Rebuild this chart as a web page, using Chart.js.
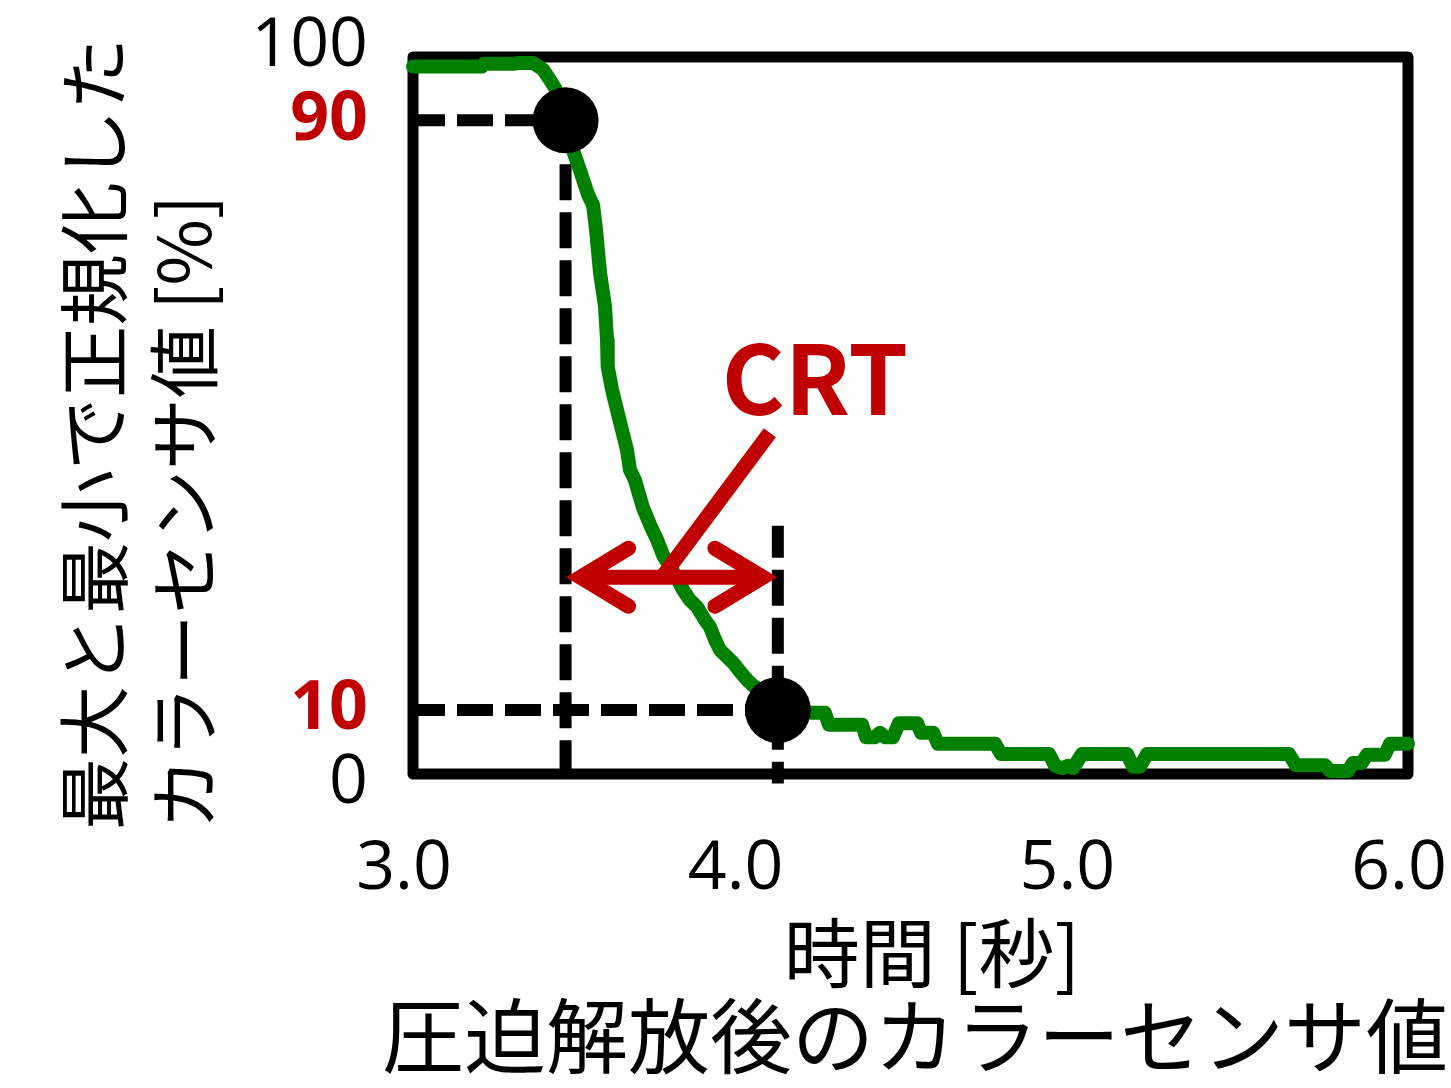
<!DOCTYPE html>
<html lang="ja">
<head>
<meta charset="utf-8">
<title>圧迫解放後のカラーセンサ値</title>
<script src="https://cdn.jsdelivr.net/npm/chart.js@4/dist/chart.umd.min.js"></script>
<style>
  html, body { margin: 0; padding: 0; background: #fff; }
  canvas { display: block; }
</style>
</head>
<body>
<canvas id="crt" width="1451" height="1088"></canvas>
<script>
// Normalised colour-sensor reading after the pressure is released
const timeSec = [3.000, 3.208, 3.214, 3.307, 3.320, 3.362, 3.392, 3.413, 3.428, 3.449,
  3.467, 3.482, 3.503, 3.528, 3.543, 3.552, 3.564, 3.579, 3.585, 3.587,
  3.600, 3.615, 3.630, 3.645, 3.654, 3.669, 3.693, 3.715, 3.736, 3.754,
  3.775, 3.796, 3.814, 3.835, 3.856, 3.880, 3.895, 3.911, 3.926, 3.947,
  3.965, 3.986, 4.007, 4.025, 4.046, 4.076, 4.107, 4.137, 4.203, 4.242,
  4.254, 4.354, 4.366, 4.393, 4.408, 4.423, 4.447, 4.465, 4.520, 4.532,
  4.568, 4.583, 4.755, 4.773, 4.918, 4.936, 4.957, 4.975, 4.990, 5.017,
  5.153, 5.171, 5.192, 5.213, 5.641, 5.662, 5.750, 5.765, 5.819, 5.834,
  5.861, 5.876, 5.930, 5.946, 6.000];
const sensorPct = [97.3, 97.3, 97.7, 97.7, 97.8, 97.8, 96.9, 95.5, 94.4, 92.3,
  89.4, 86.0, 83.3, 79.9, 78.5, 75.1, 69.3, 64.7, 60.2, 56.6,
  53.5, 50.7, 48.0, 45.3, 42.6, 41.2, 37.5, 35.1, 33.1, 31.0,
  29.4, 27.9, 26.3, 24.9, 24.0, 22.2, 21.3, 19.5, 18.1, 17.2,
  16.4, 15.2, 14.1, 13.3, 12.7, 11.4, 10.4, 9.9, 9.6, 9.6,
  8.0, 8.0, 6.3, 6.3, 6.9, 6.3, 6.3, 8.2, 8.2, 6.9,
  6.9, 5.4, 5.4, 4.0, 4.0, 2.4, 2.1, 2.4, 2.1, 4.0,
  4.0, 2.3, 2.3, 4.0, 4.0, 2.5, 2.5, 1.7, 1.7, 2.8,
  2.8, 3.9, 3.9, 5.4, 5.4];

// 90 % and 10 % crossing points that define the CRT
const crtLevels = [90, 10];
const crtTimes = [3.46, 4.10];
const guideBottom = 0;        // vertical guides run down to 0 %
const t10GuideTop = 35;       // the 10 % guide starts here
const arrowLevel = 28;        // height of the double arrow
const leaderFrom = [4.076, 47.6];
const leaderTo = [3.751, 28];
const crtLabelAt = [4.212, 55];

// axes
const xRange = [3, 6];
const yRange = [1.3, 98.6];
const yTickValues = [0, 10, 90, 100];
const yHighlight = [10, 90];

const chartTitle = '圧迫解放後のカラーセンサ値';
const xTitle = '時間 [秒]';
const yTitleLines = ['最大と最小で正規化した', 'カラーセンサ値 [%]'];
const crtLabel = 'CRT';

const FONT = '"Noto Sans CJK JP", "Noto Sans", sans-serif';
const NUM_FONT = '"Open Sans", "Noto Sans", sans-serif';
const RED = '#C00000';
const GREEN = '#008000';

const pts = (xs, ys) => xs.map((x, i) => ({ x, y: ys[i] }));

const dashStyle = {
  borderColor: '#000', borderWidth: 12, borderDash: [36, 12], borderDashOffset: 4,
  borderCapStyle: 'butt', pointRadius: 0, tension: 0, clip: false, fill: false
};

// black box round the plotting area
const frame = {
  id: 'frame',
  beforeDatasetsDraw(chart) {
    const { ctx, chartArea: a } = chart;
    ctx.save();
    ctx.lineWidth = 11;
    ctx.strokeStyle = '#000';
    ctx.lineJoin = 'round';
    ctx.strokeRect(a.left, a.top, a.right - a.left, a.bottom - a.top);
    ctx.restore();
  }
};

// titles: two left-aligned rotated lines on the left, the x title and the caption below
const titles = {
  id: 'titles',
  afterDraw(chart) {
    const ctx = chart.ctx;
    const xs = [94, 184];
    ctx.save();
    ctx.fillStyle = '#000';
    ctx.font = '72px ' + FONT;
    ctx.textAlign = 'left';
    ctx.textBaseline = 'middle';
    yTitleLines.forEach((t, i) => {
      ctx.save();
      ctx.translate(xs[i], 830);
      ctx.rotate(-Math.PI / 2);
      ctx.fillText(t, 0, 0);
      ctx.restore();
    });
    ctx.textAlign = 'center';
    ctx.font = '76px ' + FONT;
    ctx.fillText(xTitle, 932, 953);
    ctx.font = '82px ' + FONT;
    ctx.fillText(chartTitle, 915, 1036);
    ctx.restore();
  }
};

const crtMarks = {
  id: 'crtMarks',
  afterDatasetsDraw(chart) {
    const { ctx, scales: { x, y } } = chart;
    const yA = y.getPixelForValue(arrowLevel);
    const xL = x.getPixelForValue(crtTimes[0]);
    const xR = x.getPixelForValue(crtTimes[1]);
    const inset = 15, headDx = 48, headDy = 29;
    ctx.save();
    ctx.strokeStyle = RED;
    ctx.lineWidth = 15;
    // leader from the label down to the arrow
    ctx.lineCap = 'butt';
    ctx.beginPath();
    ctx.moveTo(x.getPixelForValue(leaderFrom[0]), y.getPixelForValue(leaderFrom[1]));
    ctx.lineTo(x.getPixelForValue(leaderTo[0]), y.getPixelForValue(leaderTo[1]));
    ctx.stroke();
    // shaft
    ctx.beginPath();
    ctx.moveTo(xL + inset, yA);
    ctx.lineTo(xR - inset, yA);
    ctx.stroke();
    // open heads
    ctx.lineCap = 'round';
    ctx.lineJoin = 'miter';
    ctx.miterLimit = 10;
    [[xL + inset, 1], [xR - inset, -1]].forEach(([vx, d]) => {
      ctx.beginPath();
      ctx.moveTo(vx + d * headDx, yA - headDy);
      ctx.lineTo(vx, yA);
      ctx.lineTo(vx + d * headDx, yA + headDy);
      ctx.stroke();
    });
    // label
    ctx.fillStyle = RED;
    ctx.font = 'bold 96px ' + FONT;
    ctx.textAlign = 'center';
    ctx.textBaseline = 'middle';
    ctx.fillText(crtLabel, x.getPixelForValue(crtLabelAt[0]), y.getPixelForValue(crtLabelAt[1]));
    ctx.restore();
  }
};

new Chart(document.getElementById('crt'), {
  type: 'line',
  data: {
    datasets: [
      {
        label: 'CRT points',
        data: pts(crtTimes, crtLevels),
        showLine: false,
        pointRadius: 33,
        pointBackgroundColor: '#000',
        pointBorderWidth: 0,
        clip: false
      },
      {
        label: 'カラーセンサ値',
        data: pts(timeSec, sensorPct),
        borderColor: GREEN,
        borderWidth: 14,
        borderJoinStyle: 'round',
        borderCapStyle: 'round',
        pointRadius: 0,
        tension: 0,
        clip: false,
        fill: false
      },
      Object.assign({ label: '90 %', data: pts([xRange[0], crtTimes[0]], [crtLevels[0], crtLevels[0]]) }, dashStyle),
      Object.assign({ label: '10 %', data: pts([xRange[0], crtTimes[1]], [crtLevels[1], crtLevels[1]]) }, dashStyle),
      Object.assign({ label: 't90', data: pts([crtTimes[0], crtTimes[0]], [crtLevels[0], guideBottom]) }, dashStyle),
      Object.assign({ label: 't10', data: pts([crtTimes[1], crtTimes[1]], [t10GuideTop, guideBottom]) }, dashStyle)
    ]
  },
  options: {
    responsive: false,
    animation: false,
    devicePixelRatio: 1,
    layout: { padding: { top: 57, right: 43, left: 0, bottom: 98 } },
    plugins: {
      legend: { display: false },
      tooltip: { enabled: false },
      title: { display: false }
    },
    scales: {
      x: {
        type: 'linear',
        min: xRange[0],
        max: xRange[1],
        grid: { display: false, drawTicks: false },
        border: { display: false },
        ticks: {
          stepSize: 1,
          padding: 55,
          labelOffset: -9,
          color: '#000',
          font: { family: NUM_FONT, size: 68 },
          callback: v => Number(v).toFixed(1)
        },
        title: { display: false },
        afterFit: s => { s.height = 216; s.paddingLeft = 0; s.paddingRight = 0; }
      },
      y: {
        type: 'linear',
        min: yRange[0],
        max: yRange[1],
        grid: { display: false, drawTicks: false },
        border: { display: false },
        afterBuildTicks: s => { s.ticks = yTickValues.map(v => ({ value: v })); },
        ticks: {
          autoSkip: false,
          padding: 45,
          color: c => (c.tick && yHighlight.includes(c.tick.value)) ? RED : '#000',
          font: c => ({
            family: NUM_FONT, size: 68,
            weight: (c.tick && yHighlight.includes(c.tick.value)) ? 'bold' : 'normal'
          }),
          callback: v => String(v)
        },
        afterFit: s => { s.width = 413; s.paddingTop = 0; s.paddingBottom = 0; }
      }
    }
  },
  plugins: [frame, crtMarks, titles]
});
</script>
</body>
</html>
